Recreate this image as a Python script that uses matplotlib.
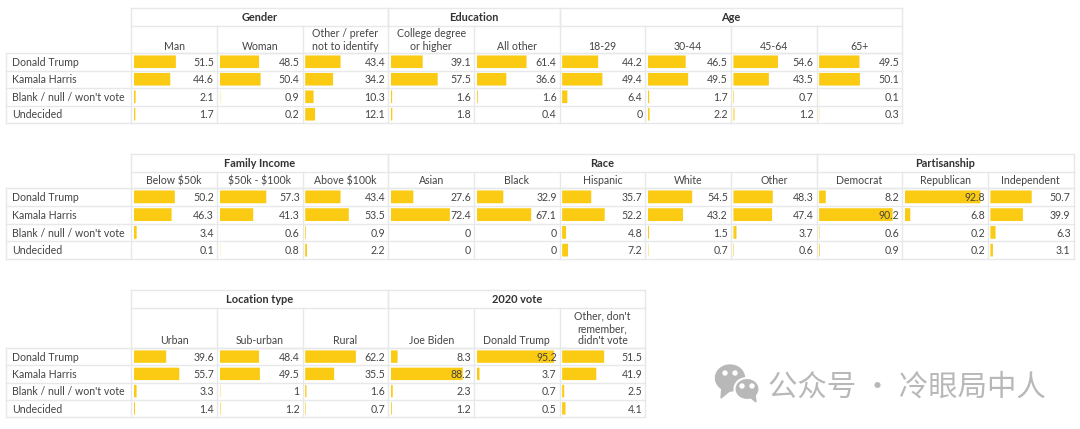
import matplotlib
matplotlib.use("Agg")
import matplotlib.pyplot as plt
from matplotlib.patches import Ellipse, Polygon

plt.rcParams['font.family'] = ['Lato', 'Noto Sans', 'DejaVu Sans']

row_names = ["Donald Trump", "Kamala Harris", "Blank / null / won't vote", "Undecided"]

# table 1
t1_groups = [("Gender", 3), ("Education", 2), ("Age", 4)]
t1_cols = ["Man", "Woman", "Other / prefer\nnot to identify", "College degree\nor higher", "All other",
           "18-29", "30-44", "45-64", "65+"]
t1_trump = [51.5, 48.5, 43.4, 39.1, 61.4, 44.2, 46.5, 54.6, 49.5]
t1_harris = [44.6, 50.4, 34.2, 57.5, 36.6, 49.4, 49.5, 43.5, 50.1]
t1_blank = [2.1, 0.9, 10.3, 1.6, 1.6, 6.4, 1.7, 0.7, 0.1]
t1_undecided = [1.7, 0.2, 12.1, 1.8, 0.4, 0, 2.2, 1.2, 0.3]

# table 2
t2_groups = [("Family Income", 3), ("Race", 5), ("Partisanship", 3)]
t2_cols = ["Below \\$50k", "\\$50k - \\$100k", "Above \\$100k", "Asian", "Black", "Hispanic", "White", "Other",
           "Democrat", "Republican", "Independent"]
t2_trump = [50.2, 57.3, 43.4, 27.6, 32.9, 35.7, 54.5, 48.3, 8.2, 92.8, 50.7]
t2_harris = [46.3, 41.3, 53.5, 72.4, 67.1, 52.2, 43.2, 47.4, 90.2, 6.8, 39.9]
t2_blank = [3.4, 0.6, 0.9, 0, 0, 4.8, 1.5, 3.7, 0.6, 0.2, 6.3]
t2_undecided = [0.1, 0.8, 2.2, 0, 0, 7.2, 0.7, 0.6, 0.9, 0.2, 3.1]

# table 3
t3_groups = [("Location type", 3), ("2020 vote", 3)]
t3_cols = ["Urban", "Sub-urban", "Rural", "Joe Biden", "Donald Trump", "Other, don't\nremember,\ndidn't vote"]
t3_trump = [39.6, 48.4, 62.2, 8.3, 95.2, 51.5]
t3_harris = [55.7, 49.5, 35.5, 88.2, 3.7, 41.9]
t3_blank = [3.3, 1, 1.6, 2.3, 0.7, 2.5]
t3_undecided = [1.4, 1.2, 0.7, 1.2, 0.5, 4.1]

W, H = 1080, 429
BAR = '#FBCB14'
GRID = '#E6E8EA'
TXT = '#444444'
FS = 7.6
LEFT = 6      # row label column
COL0 = 131.4
COLW = 85.65
PAD = 2.5
SCALE = 81.5  # px for 100 %

fig = plt.figure(figsize=(W / 100, H / 100), dpi=100)
bg = fig.add_axes([0, 0, 1, 1], zorder=3)
bg.set_xlim(0, W)
bg.set_ylim(H, 0)
bg.axis('off')
bg.patch.set_alpha(0)


def draw_table(top, group_bot, head_bot, bot, groups, cols, series):
    n = len(cols)
    right = COL0 + n * COLW
    row_h = (bot - head_bot) / 4

    # bars, one axes for every column
    for c in range(n):
        x0 = COL0 + c * COLW + PAD
        ax = fig.add_axes([x0 / W, 1 - bot / H, SCALE / W, (bot - head_bot) / H], zorder=1)
        bars = ax.barh(range(4), [s[c] for s in series], height=0.72, color=BAR)
        for b in bars:
            b.set_snap(False)
        ax.set_xlim(0, 100)
        ax.set_ylim(3.5, -0.5)
        ax.axis('off')

    # grid
    for y in [group_bot, head_bot]:
        bg.plot([COL0, right], [y, y], color=GRID, lw=1)
    bg.plot([COL0, right], [top, top], color=GRID, lw=1)
    for r in range(5):
        y = head_bot + r * row_h
        bg.plot([LEFT, right], [y, y], color=GRID, lw=1)
    bg.plot([LEFT, LEFT], [head_bot, bot], color=GRID, lw=1)
    for c in range(n + 1):
        x = COL0 + c * COLW
        bg.plot([x, x], [group_bot, bot], color=GRID, lw=1)

    # group headers
    start = 0
    for name, span in groups:
        x0 = COL0 + start * COLW
        x1 = COL0 + (start + span) * COLW
        bg.plot([x0, x0], [top, group_bot], color=GRID, lw=1)
        bg.plot([x1, x1], [top, group_bot], color=GRID, lw=1)
        bg.text((x0 + x1) / 2, (top + group_bot) / 2 + 0.5, name, ha='center', va='center',
                fontsize=7.9, fontweight='bold', color='#333333')
        start += span

    # column headers
    for c, name in enumerate(cols):
        bg.text(COL0 + (c + 0.5) * COLW, head_bot - 1.5, name, ha='center', va='bottom',
                fontsize=FS, color=TXT, linespacing=1.15)

    # rows
    for r, name in enumerate(row_names):
        y = head_bot + (r + 0.5) * row_h + 0.7
        bg.text(12.5, y, name, ha='left', va='center', fontsize=FS, color=TXT)
        for c in range(n):
            bg.text(COL0 + (c + 1) * COLW - 3, y, f"{series[r][c]:g}", ha='right', va='center',
                    fontsize=FS, color=TXT)


draw_table(8, 26, 53, 123, t1_groups, t1_cols, [t1_trump, t1_harris, t1_blank, t1_undecided])
draw_table(154, 172, 188, 259, t2_groups, t2_cols, [t2_trump, t2_harris, t2_blank, t2_undecided])
draw_table(290, 308, 348, 417, t3_groups, t3_cols, [t3_trump, t3_harris, t3_blank, t3_undecided])

# watermark
GREY = '#B8B8B8'
bg.add_patch(Ellipse((730, 378), 29, 26, color=GREY, zorder=4))
bg.add_patch(Polygon([[722, 386], [721, 398], [732, 389]], color=GREY, zorder=4))
bg.add_patch(Ellipse((747, 389), 25, 22, color=GREY, ec='white', lw=1.5, zorder=5))
bg.add_patch(Polygon([[750, 397], [756, 402], [755, 394]], color=GREY, zorder=5))
for ex, ey in [(725, 373), (735, 373), (742, 386), (752, 386)]:
    bg.add_patch(Ellipse((ex, ey), 4, 4, color='white', zorder=6))
bg.text(768, 387, "公众号 · 冷眼局中人", ha='left', va='center', fontsize=21.2, color=GREY,
        family=['Noto Sans CJK SC', 'DejaVu Sans'])

fig.savefig('out.png', dpi=100, facecolor='white')
